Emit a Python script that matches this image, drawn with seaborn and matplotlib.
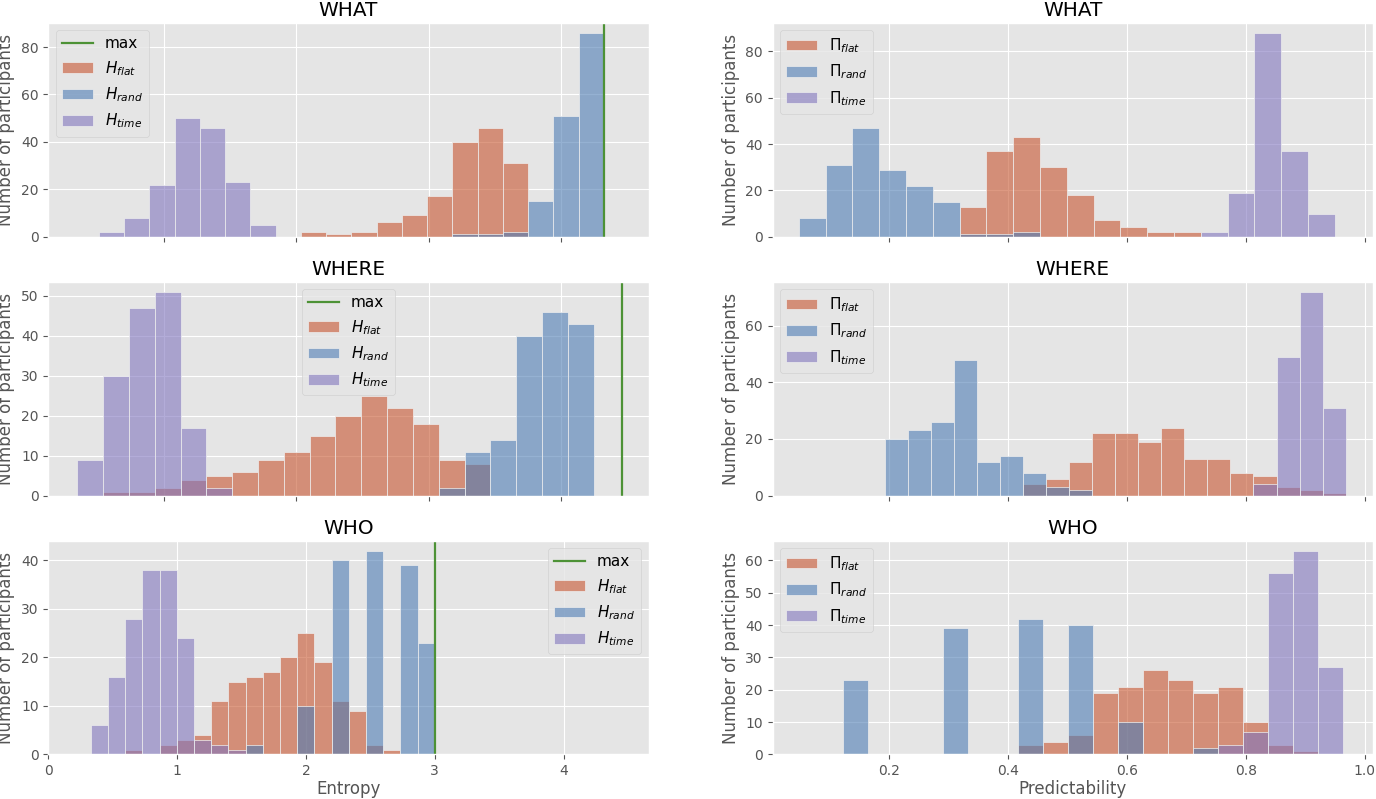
import numpy as np
import pandas as pd
import matplotlib
matplotlib.use("Agg")
import matplotlib.pyplot as plt
from matplotlib.lines import Line2D
import seaborn as sns

plt.style.use('ggplot')

# every histogram has 20 equal bins between the min and max of the panel data
n_bins = 20

# --- entropy (left column) ---
what_H_range = (0.507, 4.322)
what_H_flat = [0, 0, 0, 0, 0, 0, 0, 0, 2, 1, 2, 6, 9, 17, 40, 46, 31, 0, 0, 0]
what_H_rand = [0, 0, 0, 0, 0, 0, 0, 0, 0, 0, 0, 0, 0, 0, 1, 1, 2, 15, 51, 86]
what_H_time = [2, 8, 22, 50, 46, 23, 5, 0, 0, 0, 0, 0, 0, 0, 0, 0, 0, 0, 0, 0]
what_H_max = 4.322

where_H_range = (0.345, 4.244)
where_H_flat = [0, 1, 1, 2, 4, 5, 6, 9, 11, 15, 20, 25, 22, 18, 9, 8, 0, 0, 0, 0]
where_H_rand = [0, 0, 0, 0, 0, 0, 0, 0, 0, 0, 0, 0, 0, 0, 2, 11, 14, 40, 46, 43]
where_H_time = [9, 30, 47, 51, 17, 2, 0, 0, 0, 0, 0, 0, 0, 0, 0, 0, 0, 0, 0, 0]
where_H_max = 4.459

who_H_range = (0.329, 3.0)
who_H_flat = [0, 0, 1, 0, 2, 3, 4, 11, 15, 16, 17, 20, 25, 19, 11, 9, 2, 1, 0, 0]
who_H_rand = [0, 0, 0, 0, 0, 0, 0, 0, 0, 2, 0, 0, 10, 0, 40, 0, 42, 0, 39, 23]
who_H_time = [6, 16, 28, 38, 38, 24, 3, 2, 1, 0, 0, 0, 0, 0, 0, 0, 0, 0, 0, 0]
who_H_max = 3.0

# --- predictability (right column) ---
what_P_range = (0.049, 0.950)
what_P_flat = [0, 0, 0, 0, 0, 0, 13, 37, 43, 30, 18, 7, 4, 2, 2, 0, 0, 0, 0, 0]
what_P_rand = [8, 31, 47, 29, 22, 15, 1, 1, 2, 0, 0, 0, 0, 0, 0, 0, 0, 0, 0, 0]
what_P_time = [0, 0, 0, 0, 0, 0, 0, 0, 0, 0, 0, 0, 0, 0, 0, 2, 19, 88, 37, 10]

where_P_range = (0.194, 0.968)
where_P_flat = [0, 0, 0, 0, 0, 0, 4, 6, 12, 22, 22, 19, 24, 13, 13, 8, 7, 3, 2, 1]
where_P_rand = [20, 23, 26, 48, 12, 14, 8, 3, 2, 0, 0, 0, 0, 0, 0, 0, 0, 0, 0, 0]
where_P_time = [0, 0, 0, 0, 0, 0, 0, 0, 0, 0, 0, 0, 0, 0, 0, 0, 4, 49, 72, 31]

who_P_range = (0.124, 0.964)
who_P_flat = [0, 0, 0, 0, 0, 0, 0, 3, 4, 6, 19, 21, 26, 23, 19, 21, 10, 3, 1, 0]
who_P_rand = [23, 0, 0, 0, 39, 0, 0, 42, 0, 40, 0, 10, 0, 0, 2, 0, 0, 0, 0, 0]
who_P_time = [0, 0, 0, 0, 0, 0, 0, 0, 0, 0, 0, 0, 0, 0, 0, 3, 7, 56, 63, 27]

titles = ['WHAT', 'WHERE', 'WHO']
H_labels = ['$H_{flat}$', '$H_{rand}$', '$H_{time}$']
P_labels = ['$\\Pi_{flat}$', '$\\Pi_{rand}$', '$\\Pi_{time}$']
colors = ['#C7552F', '#4E7DB5', '#8176BE']
max_color = '#4D9236'


def hist_panel(ax, rng, series):
    edges = np.linspace(rng[0], rng[1], n_bins + 1)
    centers = (edges[:-1] + edges[1:]) / 2
    for counts, col in zip(series, colors):
        df = pd.DataFrame({'x': centers, 'n': counts})
        sns.histplot(data=df, x='x', weights='n', bins=list(edges), color=col,
                     alpha=0.6, ax=ax)
    return list(ax.containers)


fig, axes = plt.subplots(3, 2, figsize=(13.76, 7.99), dpi=100)
fig.subplots_adjust(left=0.0351, right=0.9978, bottom=0.0557, top=0.9716,
                    hspace=0.21, wspace=0.2064)

left_data = [
    (what_H_range, [what_H_flat, what_H_rand, what_H_time], what_H_max, 'upper left'),
    (where_H_range, [where_H_flat, where_H_rand, where_H_time], where_H_max, 'upper center'),
    (who_H_range, [who_H_flat, who_H_rand, who_H_time], who_H_max, 'upper right'),
]
right_data = [
    (what_P_range, [what_P_flat, what_P_rand, what_P_time]),
    (where_P_range, [where_P_flat, where_P_rand, where_P_time]),
    (who_P_range, [who_P_flat, who_P_rand, who_P_time]),
]

for row in range(3):
    # entropy
    ax = axes[row, 0]
    rng, series, hmax, loc = left_data[row]
    bars = hist_panel(ax, rng, series)
    ax.axvline(hmax, color=max_color, lw=1.6)
    handles = [Line2D([], [], color=max_color, lw=1.6)] + bars
    ax.legend(handles, ['max'] + H_labels, loc=loc, fontsize=11)
    ax.set_title(titles[row], pad=4.5)
    ax.set_ylabel('Number of participants')
    if row < 2:
        ax.set_xlim(0.126, 4.66)
        ax.set_xticks([1, 2, 3, 4])
        ax.tick_params(labelbottom=False)
        ax.set_xlabel('')
    else:
        ax.set_xlim(0, 4.66)
        ax.set_xticks([0, 1, 2, 3, 4])
        ax.set_xlabel('Entropy', labelpad=1.5)

    # predictability
    ax = axes[row, 1]
    rng, series = right_data[row]
    bars = hist_panel(ax, rng, series)
    ax.legend(bars, P_labels, loc='upper left', fontsize=11)
    ax.set_title(titles[row], pad=4.5)
    ax.set_ylabel('Number of participants')
    ax.set_xlim(0.005, 1.014)
    ax.set_xticks([0.2, 0.4, 0.6, 0.8, 1.0])
    if row < 2:
        ax.tick_params(labelbottom=False)
        ax.set_xlabel('')
    else:
        ax.set_xlabel('Predictability', labelpad=1.5)

fig.savefig('out.png', dpi=100)
